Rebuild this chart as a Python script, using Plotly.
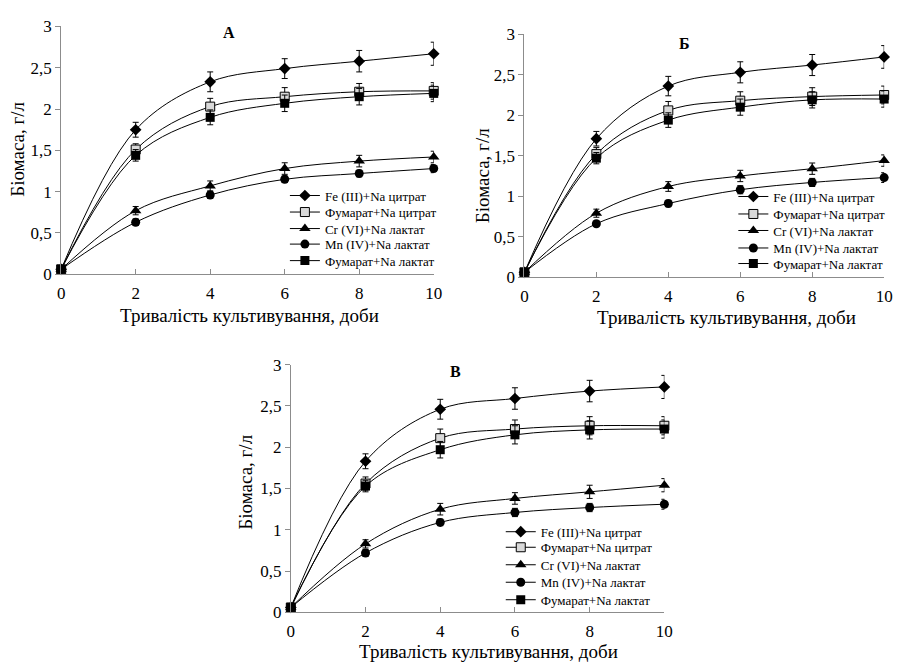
import plotly.graph_objects as go

# ---------------- data ----------------
days = [0, 2, 4, 6, 8, 10]
series_names = ["Fe (III)+Na цитрат", "Фумарат+Na цитрат", "Cr (VI)+Na лактат",
                "Mn (IV)+Na лактат", "Фумарат+Na лактат"]
panel_labels = ["А", "Б", "В"]
x_title = "Тривалість культивування, доби"
y_title = "Біомаса, г/л"

# Panel А
a_fe = [0.06, 1.75, 2.33, 2.49, 2.58, 2.67]
a_fumcit = [0.06, 1.51, 2.03, 2.15, 2.21, 2.22]
a_cr = [0.06, 0.77, 1.07, 1.28, 1.37, 1.42]
a_mn = [0.06, 0.63, 0.96, 1.15, 1.22, 1.28]
a_fumlac = [0.06, 1.44, 1.90, 2.07, 2.15, 2.19]
a_fe_err = [0, 0.09, 0.12, 0.12, 0.13, 0.14]
a_fumcit_err = [0, 0.07, 0.10, 0.11, 0.10, 0.10]
a_cr_err = [0, 0.05, 0.06, 0.07, 0.07, 0.07]
a_mn_err = [0, 0.04, 0.04, 0.04, 0.04, 0.05]
a_fumlac_err = [0, 0.07, 0.09, 0.10, 0.10, 0.10]

# Panel Б
b_fe = [0.06, 1.71, 2.36, 2.53, 2.62, 2.72]
b_fumcit = [0.06, 1.52, 2.06, 2.18, 2.23, 2.25]
b_cr = [0.06, 0.79, 1.12, 1.25, 1.34, 1.44]
b_mn = [0.06, 0.66, 0.91, 1.08, 1.17, 1.23]
b_fumlac = [0.06, 1.47, 1.94, 2.10, 2.19, 2.20]
b_fe_err = [0, 0.09, 0.12, 0.13, 0.13, 0.14]
b_fumcit_err = [0, 0.08, 0.11, 0.11, 0.11, 0.11]
b_cr_err = [0, 0.05, 0.06, 0.07, 0.07, 0.07]
b_mn_err = [0, 0.03, 0.04, 0.05, 0.05, 0.06]
b_fumlac_err = [0, 0.07, 0.09, 0.10, 0.10, 0.10]

# Panel В
c_fe = [0.06, 1.83, 2.46, 2.59, 2.68, 2.73]
c_fumcit = [0.06, 1.56, 2.11, 2.22, 2.26, 2.26]
c_cr = [0.06, 0.83, 1.25, 1.38, 1.46, 1.54]
c_mn = [0.06, 0.72, 1.09, 1.21, 1.27, 1.31]
c_fumlac = [0.06, 1.53, 1.97, 2.15, 2.21, 2.22]
c_fe_err = [0, 0.09, 0.12, 0.13, 0.13, 0.14]
c_fumcit_err = [0, 0.08, 0.11, 0.11, 0.11, 0.11]
c_cr_err = [0, 0.05, 0.07, 0.07, 0.08, 0.08]
c_mn_err = [0, 0.04, 0.04, 0.05, 0.05, 0.06]
c_fumlac_err = [0, 0.07, 0.10, 0.11, 0.11, 0.11]

panels = [
    ([a_fe, a_fumcit, a_cr, a_mn, a_fumlac],
     [a_fe_err, a_fumcit_err, a_cr_err, a_mn_err, a_fumlac_err]),
    ([b_fe, b_fumcit, b_cr, b_mn, b_fumlac],
     [b_fe_err, b_fumcit_err, b_cr_err, b_mn_err, b_fumlac_err]),
    ([c_fe, c_fumcit, c_cr, c_mn, c_fumlac],
     [c_fe_err, c_fumcit_err, c_cr_err, c_mn_err, c_fumlac_err]),
]

# ---------------- layout geometry (pixels) ----------------
W, H = 904, 671
FONT = "Liberation Serif"
# plot areas: left, right, top, bottom
areas = [(58, 436, 18, 273), (528, 893, 26, 276), (291, 670, 366, 621)]
label_pos = [(228, 24), (690, 35), (458, 373)]
ytitle_pos = [(14, 144), (485, 172), (245, 487)]
xtitle_pos = [(249, 315), (733, 318), (492, 661)]
legend_x = [290, 745, 509]
legend_rows = [[192, 209, 226, 242, 259],
               [193, 211, 228, 246, 262],
               [538, 554, 572, 590, 608]]

styles = [
    dict(symbol="diamond", size=9, color="black", line=dict(width=0)),
    dict(symbol="square", size=9, color="#d9d9d9", line=dict(color="black", width=1)),
    dict(symbol="triangle-up", size=10, color="black", line=dict(width=0)),
    dict(symbol="circle", size=9, color="black", line=dict(width=0)),
    dict(symbol="square", size=9, color="black", line=dict(width=0)),
]

fig = go.Figure()
layout = dict(
    width=W, height=H,
    margin=dict(l=0, r=0, t=0, b=0),
    paper_bgcolor="white", plot_bgcolor="white",
    separators=", ",
    font=dict(family=FONT, size=16, color="black"),
    showlegend=True,
    annotations=[],
)

for p, (vals, errs) in enumerate(panels):
    sfx = "" if p == 0 else str(p + 1)
    l, r, t, b = areas[p]
    layout["xaxis" + sfx] = dict(
        domain=[l / W, r / W], anchor="y" + sfx, range=[0, 10],
        tickvals=days, ticks="inside", ticklen=5, tickcolor="#8c8c8c",
        showline=True, linecolor="#8c8c8c", linewidth=1, showgrid=False,
        zeroline=False, tickfont=dict(family=FONT, size=17, color="black"),
        ticklabelstandoff=3,
    )
    layout["yaxis" + sfx] = dict(
        domain=[1 - b / H, 1 - t / H], anchor="x" + sfx, range=[0, 3],
        dtick=0.5, tick0=0, ticks="outside", ticklen=5, tickcolor="#8c8c8c",
        showline=True, linecolor="#8c8c8c", linewidth=1, showgrid=False,
        zeroline=False, tickfont=dict(family=FONT, size=17, color="black"),
    )
    for s in range(5):
        k = p * 5 + s + 1
        lname = "legend" if k == 1 else "legend%d" % k
        fig.add_trace(go.Scatter(
            x=days, y=vals[s], name=series_names[s],
            mode="lines+markers",
            line=dict(color="black", width=1, shape="spline", smoothing=1),
            marker=styles[s],
            error_y=dict(type="data", array=errs[s], visible=True,
                         color="black", thickness=1, width=3),
            xaxis="x" + sfx, yaxis="y" + sfx,
            legend=lname, cliponaxis=False,
        ))
        layout[lname] = dict(
            x=(legend_x[p] - 5) / W, y=1 - legend_rows[p][s] / H,
            xanchor="left", yanchor="middle",
            bgcolor="rgba(0,0,0,0)", borderwidth=0,
            font=dict(family=FONT, size=13, color="black"),
            itemwidth=30, tracegroupgap=0,
        )
    lx, ly = label_pos[p]
    layout["annotations"].append(dict(
        x=lx / W, y=1 - ly / H, xref="paper", yref="paper", text="<b>%s</b>" % panel_labels[p],
        showarrow=False, font=dict(family=FONT, size=16, color="black"),
        xanchor="center", yanchor="middle"))
    tx, ty = ytitle_pos[p]
    layout["annotations"].append(dict(
        x=tx / W, y=1 - ty / H, xref="paper", yref="paper", text=y_title, textangle=-90,
        showarrow=False, font=dict(family=FONT, size=19, color="black"),
        xanchor="center", yanchor="middle"))
    tx, ty = xtitle_pos[p]
    layout["annotations"].append(dict(
        x=tx / W, y=1 - ty / H, xref="paper", yref="paper", text=x_title,
        showarrow=False, font=dict(family=FONT, size=19, color="black"),
        xanchor="center", yanchor="middle"))

fig.update_layout(**layout)
fig.write_html("out.html",
               config={"displayModeBar": False},
               post_script="document.body.style.margin='0';document.body.style.overflow='hidden';")
